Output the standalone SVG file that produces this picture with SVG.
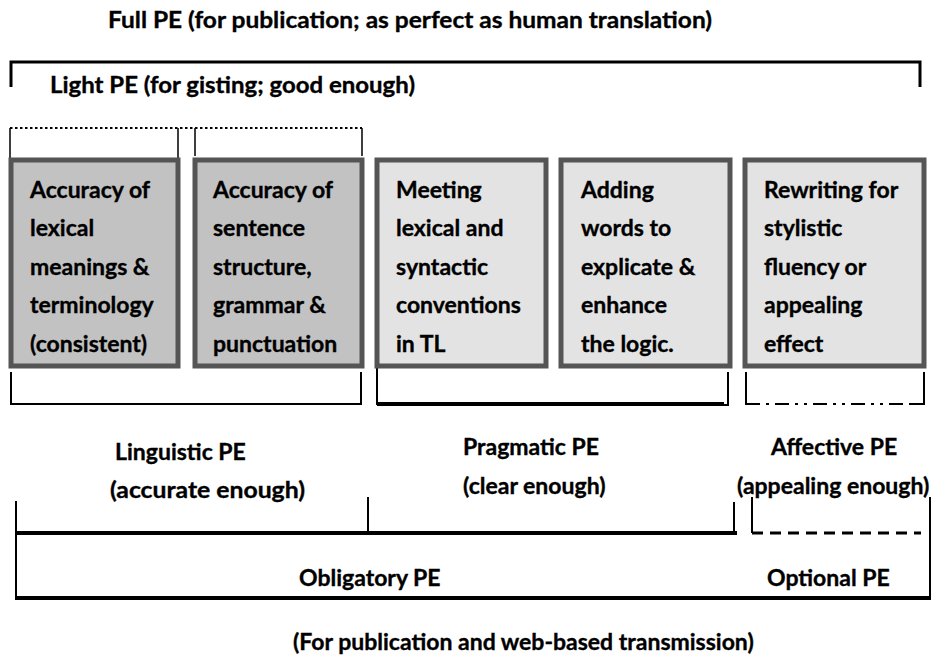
<svg xmlns="http://www.w3.org/2000/svg" width="947" height="660" viewBox="0 0 947 660">
<style>
text{font-family:Lato,"Open Sans","Liberation Sans",sans-serif;font-weight:bold;font-size:23px;fill:#000;stroke:#000;stroke-width:0.35}
.box1{fill:#c2c2c2;stroke:#555;stroke-width:5}
.box2{fill:#e3e3e3;stroke:#555;stroke-width:5}
.ln{fill:none;stroke:#000;stroke-width:2}
.thick{fill:none;stroke:#000;stroke-width:4}
</style>
<rect width="947" height="660" fill="#fff"/>
<text x="108" y="28" textLength="604" lengthAdjust="spacingAndGlyphs">Full PE (for publication; as perfect as human translation)</text>
<text x="50" y="93" textLength="365" lengthAdjust="spacingAndGlyphs">Light PE (for gisting; good enough)</text>
<g id="connectors">
<path class="ln" style="stroke-width:3" d="M11,87 V62 H920 V87"/>
<path class="ln" style="stroke-width:1.5" d="M10,158 V128 M178,158 V128 M195,156 V128 M362,156 V128"/>
<path class="ln" style="stroke-dasharray:2.5 2.5" d="M10,128 H362"/>
<path class="ln" d="M11,372 V404 H361 V372"/>
<path class="ln" d="M377,366 V405 M728,372 V405 H720"/>
<path class="thick" d="M377,404 H724"/>
<path class="ln" d="M746,372 V404 H757 M912,404 H924 V372"/>
<path class="ln" style="stroke-dasharray:3 6 3 6 14 6" d="M757,404 H912"/>
<path class="ln" d="M16,501 V600 M368,497 V533 M734,502 V533 M752,497 V533 M930,497 V600"/>
<path class="thick" d="M16,533 H737 M16,598 H931"/>
<path class="thick" style="stroke-width:3;stroke-dasharray:11 7" d="M752,533 H921"/>
</g>
<g id="node1"><rect class="box1" x="11" y="160" width="167" height="206"/>
<text x="30" y="198">Accuracy of</text><text x="30" y="236">lexical</text><text x="30" y="275">meanings &amp;</text><text x="30" y="313">terminology</text><text x="30" y="352">(consistent)</text></g>
<g id="node2"><rect class="box1" x="195" y="160" width="167" height="206"/>
<text x="213" y="198">Accuracy of</text><text x="213" y="236">sentence</text><text x="213" y="275">structure,</text><text x="213" y="313">grammar &amp;</text><text x="213" y="352">punctuation</text></g>
<g id="node3"><rect class="box2" x="377" y="160" width="169" height="206"/>
<text x="396" y="198">Meeting</text><text x="396" y="236">lexical and</text><text x="396" y="275">syntactic</text><text x="396" y="313">conventions</text><text x="396" y="352">in TL</text></g>
<g id="node4"><rect class="box2" x="561" y="160" width="169" height="206"/>
<text x="581" y="198">Adding</text><text x="581" y="236">words to</text><text x="581" y="275">explicate &amp;</text><text x="581" y="313">enhance</text><text x="581" y="352">the logic.</text></g>
<g id="node5"><rect class="box2" x="745" y="160" width="179" height="206"/>
<text x="764" y="198">Rewriting for</text><text x="764" y="236">stylistic</text><text x="764" y="275">fluency or</text><text x="764" y="313">appealing</text><text x="764" y="352">effect</text></g>
<g id="labels">
<text x="115" y="460">Linguistic PE</text>
<text x="110" y="498" textLength="195" lengthAdjust="spacingAndGlyphs">(accurate enough)</text>
<text x="463" y="455">Pragmatic PE</text>
<text x="463" y="494">(clear enough)</text>
<text x="771" y="455">Affective PE</text>
<text x="737" y="494">(appealing enough)</text>
<text x="299" y="586">Obligatory PE</text>
<text x="767" y="586">Optional PE</text>
<text x="293" y="650">(For publication and web-based transmission)</text>
</g>
</svg>
